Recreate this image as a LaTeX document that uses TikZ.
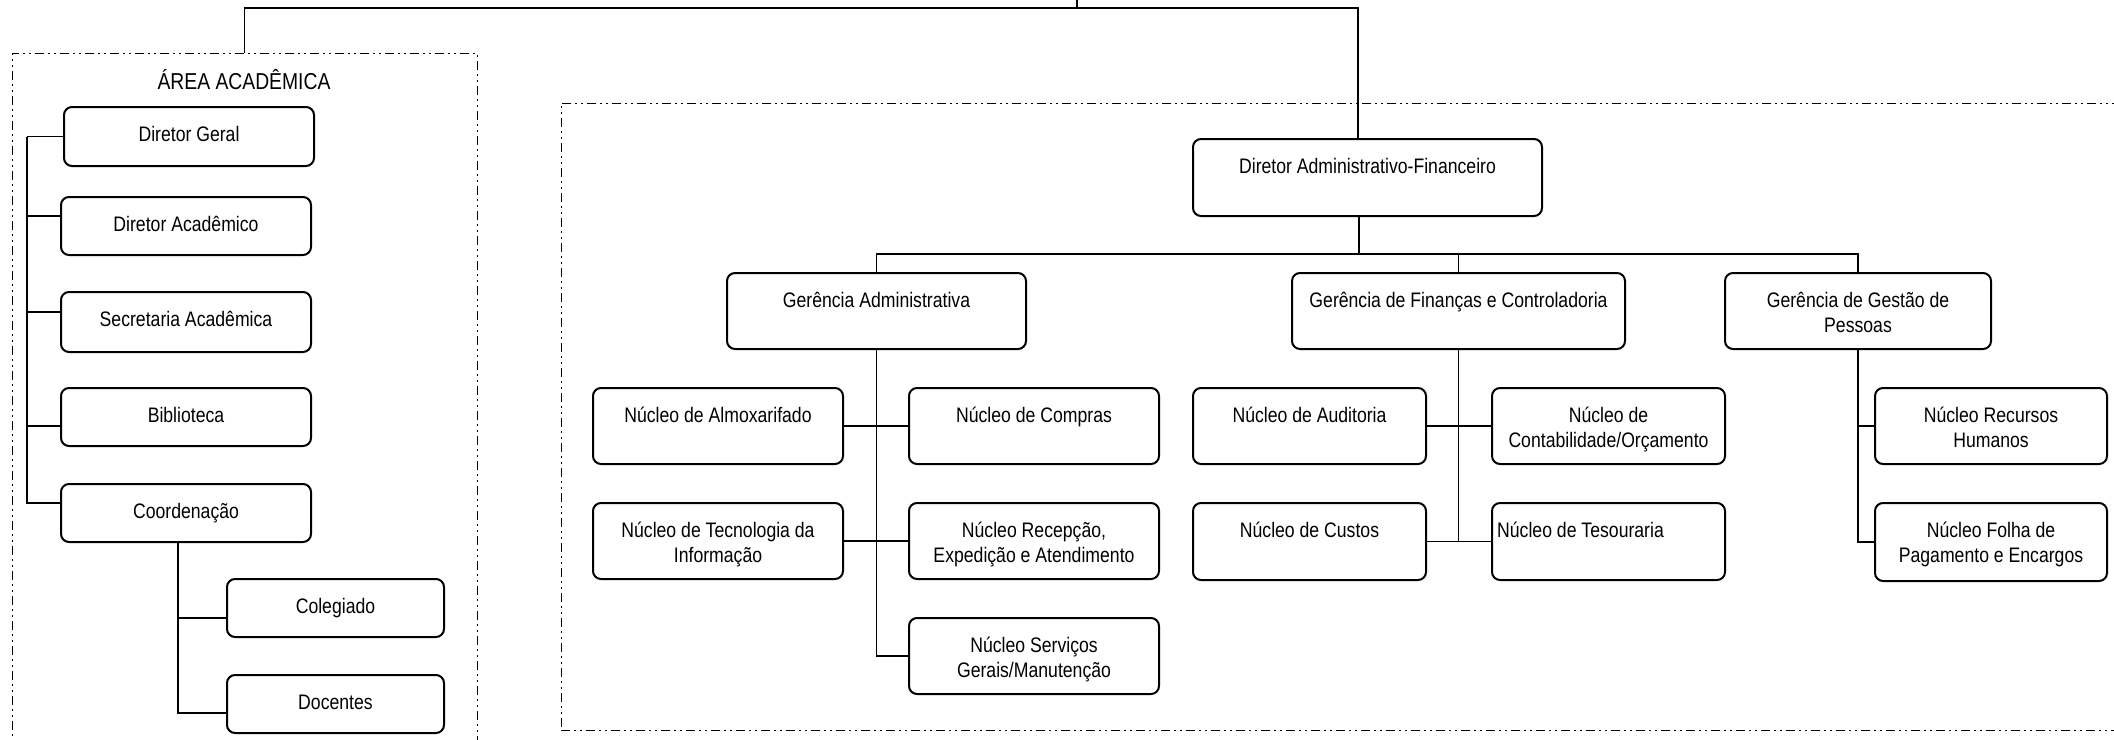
\documentclass[tikz,border=0pt]{standalone}
\usepackage{fontspec}
\setmainfont{Liberation Sans}[FakeStretch=0.84]
\newcommand\obox[7][17]{%
  \pgfmathsetmacro\tdp{(#6-#4)*0.5-#1}%
  \node[obox,minimum width={(#5-#3)*0.5pt},minimum height={(#6-#4)*0.5pt},text height=#1pt,text depth=\tdp pt] (#2) at ({(#3+#5)/2},{(#4+#6)/2}) {#7};}
\begin{document}
\begin{tikzpicture}[x=0.5pt,y=-0.5pt,
  obox/.style={draw,line width=1pt,rounded corners=4pt,inner sep=0pt,align=center,
    font=\fontsize{10.5pt}{12.5pt}\selectfont},
  dashbox/.style={draw,line width=0.5pt,dash pattern=on 4.5pt off 2pt on 1pt off 2pt on 1pt off 2pt,inner sep=0pt},
  conn/.style={line width=0.8pt}]
\useasboundingbox (0,0) rectangle (2114,739);
\clip (0,0) rectangle (2114,739);
% dashed areas
\node[dashbox,minimum width={465*0.5pt},minimum height={727*0.5pt}] (acad) at (244.5,416.5) {};
\node[dashbox,minimum width={1579*0.5pt},minimum height={627*0.5pt}] (adm) at (1350.5,416.5) {};
\node[font=\fontsize{11.5pt}{13pt}\selectfont] (title) at (244,80) {ÁREA ACADÊMICA};
% academic boxes
\obox{dg}{64}{107}{314}{166}{Diretor Geral}
\obox{da}{61}{197}{311}{255}{Diretor Acadêmico}
\obox{sa}{61}{292}{311}{352}{Secretaria Acadêmica}
\obox{bib}{61}{388}{311}{446}{Biblioteca}
\obox{coo}{61}{484}{311}{542}{Coordenação}
\obox{col}{227}{579}{444}{637}{Colegiado}
\obox{doc}{227}{675}{444}{733}{Docentes}
% administrative boxes
\obox{daf}{1193}{139}{1542}{216}{Diretor Administrativo-Financeiro}
\obox{ga}{727}{273}{1026}{349}{Gerência Administrativa}
\obox{gf}{1292}{273}{1625}{349}{Gerência de Finanças e Controladoria}
\obox[29.5]{gp}{1725}{273}{1991}{349}{Gerência de Gestão de\\Pessoas}
\obox{alm}{593}{388}{843}{464}{Núcleo de Almoxarifado}
\obox{com}{909}{388}{1159}{464}{Núcleo de Compras}
\obox[29.5]{nti}{593}{503}{843}{579}{Núcleo de Tecnologia da\\Informação}
\obox[29.5]{rec}{909}{503}{1159}{579}{Núcleo Recepção,\\Expedição e Atendimento}
\obox[29.5]{nsg}{909}{618}{1159}{694}{Núcleo Serviços\\Gerais/Manutenção}
\obox{aud}{1193}{388}{1426}{464}{Núcleo de Auditoria}
\obox[29.5]{con}{1492}{388}{1725}{464}{Núcleo de\\Contabilidade/Orçamento}
\obox{cus}{1193}{503}{1426}{580}{Núcleo de Custos}
\obox{tes}{1492}{503}{1725}{580}{Núcleo de Tesouraria\hspace*{28pt}}
\obox[29.5]{rh}{1875}{388}{2107}{464}{Núcleo Recursos\\Humanos}
\obox[29.5]{fol}{1875}{503}{2107}{581}{Núcleo Folha de\\Pagamento e Encargos}
% top connectors
\coordinate (root) at (1077,0);
\coordinate (topbar) at (1077,8);
\draw[conn] (root) -- (topbar);
\draw[conn] (acad.north) |- (topbar);
\draw[conn] (topbar) -| ([xshift=-4.75pt]daf.north);
% academic connectors
\coordinate (ls) at ([xshift=-18pt]dg.west);
\draw[conn] (ls) -- (dg.west);
\draw[conn] (ls) |- ([yshift=5pt]da.west);
\draw[conn] (ls) |- ([yshift=5pt]sa.west);
\draw[conn] (ls) |- ([yshift=-4.5pt]bib.west);
\draw[conn] (ls) |- ([yshift=5pt]coo.west);
\coordinate (cs) at ([xshift=-4pt]coo.south);
\draw[conn] (cs) |- ([yshift=-5pt]col.west);
\draw[conn] (cs) |- ([yshift=-4.5pt]doc.west);
% administrative connectors
\coordinate (busy) at (0,254);
\draw[conn] ([xshift=-4.25pt]daf.south) -- ([xshift=-4.25pt]daf.south |- busy);
\draw[conn] (ga.north) |- (busy -| gp.north) -- (gp.north);
\draw[conn] (gf.north) -- (gf.north |- busy);
\draw[conn] (ga.south) |- (nsg.west);
\draw[conn] (alm.east) -- (com.west);
\draw[conn] (nti.east) -- (rec.west);
\draw[conn] (gf.south) -- (gf.south |- cus.east);
\draw[conn] (aud.east) -- (con.west);
\draw[conn] (cus.east) -- (tes.west);
\draw[conn] (gp.south) |- (fol.west);
\draw[conn] (gp.south |- rh.west) -- (rh.west);
\end{tikzpicture}
\end{document}
